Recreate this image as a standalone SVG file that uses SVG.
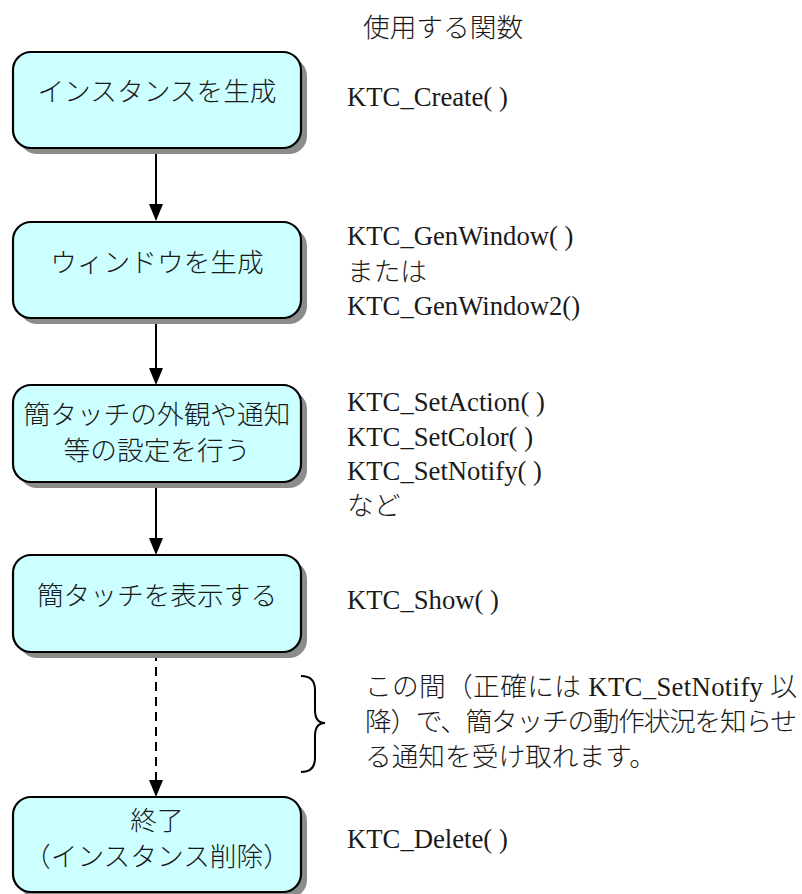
<svg xmlns="http://www.w3.org/2000/svg" width="802" height="894" viewBox="0 0 802 894">
  <style>
    text { font-family: "Liberation Serif", "Noto Sans CJK JP", serif; font-size: 26.7px; font-weight: 300; fill: #1a1a1a; }
    .c { text-anchor: middle; }
    .shadow { fill: #8c8c8c; }
    .box { fill: #ccffff; stroke: #000; stroke-width: 2.2; }
    .link { stroke: #000; stroke-width: 2; fill: none; }
    .dash { stroke-dasharray: 9 6; }
    .head { fill: #000; }
  </style>

  <rect width="802" height="894" fill="#fff"/>

  <text x="363" y="37">使用する関数</text>

  <!-- connectors -->
  <g id="connectors">
    <line class="link" x1="156" y1="148" x2="156" y2="204"/>
    <polygon class="head" points="149,204 163,204 156,221"/>
    <line class="link" x1="156" y1="318" x2="156" y2="368"/>
    <polygon class="head" points="149,368 163,368 156,385"/>
    <line class="link" x1="156" y1="482" x2="156" y2="538"/>
    <polygon class="head" points="149,538 163,538 156,555"/>
    <line class="link dash" x1="156" y1="652" x2="156" y2="780"/>
    <polygon class="head" points="149,780 163,780 156,797"/>
  </g>

  <g id="create">
    <rect class="shadow" x="19" y="58" width="288" height="96" rx="18"/>
    <rect class="box" x="13" y="52" width="288" height="96" rx="18"/>
    <text class="c" x="157" y="101">インスタンスを生成</text>
  </g>

  <g id="genwindow">
    <rect class="shadow" x="19" y="228" width="288" height="96" rx="18"/>
    <rect class="box" x="13" y="222" width="288" height="96" rx="18"/>
    <text class="c" x="157" y="272">ウィンドウを生成</text>
  </g>

  <g id="settings">
    <rect class="shadow" x="19" y="391" width="288" height="97" rx="18"/>
    <rect class="box" x="13" y="385" width="288" height="97" rx="18"/>
    <text class="c" x="157" y="424">簡タッチの外観や通知</text>
    <text class="c" x="157" y="460">等の設定を行う</text>
  </g>

  <g id="show">
    <rect class="shadow" x="19" y="561" width="288" height="97" rx="18"/>
    <rect class="box" x="13" y="555" width="288" height="97" rx="18"/>
    <text class="c" x="157" y="605">簡タッチを表示する</text>
  </g>

  <g id="finish">
    <rect class="shadow" x="19" y="803" width="288" height="95" rx="18"/>
    <rect class="box" x="13" y="797" width="288" height="95" rx="18"/>
    <text class="c" x="157" y="830">終了</text>
    <text class="c" x="157" y="866">（インスタンス削除）</text>
  </g>

  <!-- function names -->
  <g id="functions">
    <text x="347" y="106">KTC_Create( )</text>
    <text x="347" y="245">KTC_GenWindow( )</text>
    <text x="347" y="281">または</text>
    <text x="347" y="315">KTC_GenWindow2()</text>
    <text x="347" y="411">KTC_SetAction( )</text>
    <text x="347" y="446">KTC_SetColor( )</text>
    <text x="347" y="480">KTC_SetNotify( )</text>
    <text x="347" y="515">など</text>
    <text x="347" y="609">KTC_Show( )</text>
    <text x="347" y="848">KTC_Delete( )</text>
  </g>

  <!-- note on notifications -->
  <g id="note">
    <path class="link" d="M301,676 Q315,676 315,690 L315,710 Q315,723 325,723 Q315,723 315,736 L315,758 Q315,772 301,772"/>
    <text x="365" y="696" textLength="432" lengthAdjust="spacing">この間（正確には KTC_SetNotify 以</text>
    <text x="365" y="731" textLength="432" lengthAdjust="spacing">降）で、簡タッチの動作状況を知らせ</text>
    <text x="365" y="766">る通知を受け取れます。</text>
  </g>
</svg>
